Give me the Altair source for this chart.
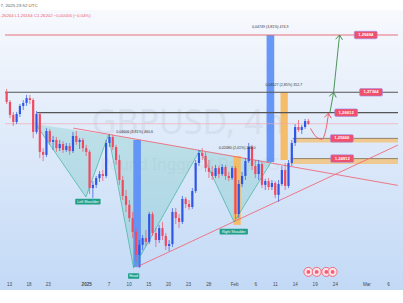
import math
import altair as alt
import numpy as np
import pandas as pd

# ---------------- data ----------------
# 12-hour candles, GBPUSD (slot index = half trading day)
candle_open = [1.2738, 1.2701, 1.2653, 1.2627, 1.2656, 1.2686, 1.2697, 1.2715, 1.2708, 1.2590,
               1.2656, 1.2516, 1.2505, 1.2593, 1.2553, 1.2560, 1.2530, 1.2545, 1.2523, 1.2538,
               1.2519, 1.2575, 1.2553, 1.2560, 1.2530, 1.2516, 1.2382, 1.2394, 1.2419, 1.2434,
               1.2427, 1.2549, 1.2571, 1.2534, 1.2486, 1.2412, 1.2353, 1.2320, 1.2271, 1.2220,
               1.2135, 1.2172, 1.2197, 1.2183, 1.2286, 1.2216, 1.2190, 1.2234, 1.2205, 1.2168,
               1.2175, 1.2294, 1.2271, 1.2257, 1.2342, 1.2323, 1.2312, 1.2371, 1.2475, 1.2512,
               1.2501, 1.2456, 1.2442, 1.2427, 1.2456, 1.2434, 1.2460, 1.2427, 1.2419, 1.2456,
               1.2286, 1.2397, 1.2427, 1.2482, 1.2534, 1.2464, 1.2434, 1.2471, 1.2394, 1.2408,
               1.2386, 1.2401, 1.2357, 1.2397, 1.2449, 1.2390, 1.2475, 1.2549, 1.2608, 1.2597,
               1.2608, 1.2630]
candle_high = [1.2749, 1.2708, 1.2664, 1.2664, 1.2693, 1.2708, 1.2727, 1.2727, 1.2715, 1.2667,
               1.2664, 1.2530, 1.2604, 1.2601, 1.2575, 1.2571, 1.2560, 1.2556, 1.2549, 1.2549,
               1.2590, 1.2593, 1.2567, 1.2567, 1.2542, 1.2523, 1.2408, 1.2427, 1.2445, 1.2449,
               1.2560, 1.2582, 1.2579, 1.2542, 1.2505, 1.2427, 1.2375, 1.2338, 1.2294, 1.2234,
               1.2190, 1.2209, 1.2227, 1.2294, 1.2294, 1.2234, 1.2246, 1.2257, 1.2216, 1.2190,
               1.2308, 1.2308, 1.2286, 1.2353, 1.2349, 1.2338, 1.2382, 1.2486, 1.2523, 1.2530,
               1.2516, 1.2486, 1.2464, 1.2468, 1.2464, 1.2471, 1.2468, 1.2442, 1.2464, 1.2464,
               1.2412, 1.2442, 1.2493, 1.2549, 1.2542, 1.2486, 1.2486, 1.2479, 1.2416, 1.2419,
               1.2412, 1.2408, 1.2412, 1.2464, 1.2475, 1.2486, 1.2560, 1.2619, 1.2634, 1.2616,
               1.2638, 1.2638]
candle_low = [1.2693, 1.2641, 1.2612, 1.2619, 1.2645, 1.2671, 1.2686, 1.2693, 1.2567, 1.2582,
              1.2493, 1.2482, 1.2497, 1.2542, 1.2523, 1.2516, 1.2519, 1.2512, 1.2516, 1.2505,
              1.2512, 1.2542, 1.2527, 1.2516, 1.2501, 1.2360, 1.2345, 1.2382, 1.2405, 1.2408,
              1.2419, 1.2534, 1.2523, 1.2468, 1.2394, 1.2338, 1.2294, 1.2257, 1.2197, 1.2109,
              1.2086, 1.2153, 1.2168, 1.2175, 1.2205, 1.2164, 1.2179, 1.2190, 1.2153, 1.2149,
              1.2164, 1.2249, 1.2234, 1.2249, 1.2308, 1.2301, 1.2305, 1.2364, 1.2464, 1.2486,
              1.2442, 1.2419, 1.2412, 1.2419, 1.2419, 1.2427, 1.2412, 1.2408, 1.2412, 1.2268,
              1.2271, 1.2386, 1.2412, 1.2475, 1.2449, 1.2419, 1.2412, 1.2382, 1.2375, 1.2375,
              1.2375, 1.2345, 1.2331, 1.2390, 1.2375, 1.2382, 1.2464, 1.2538, 1.2590, 1.2582,
              1.2601, 1.2616]
candle_close = [1.2701, 1.2653, 1.2627, 1.2656, 1.2686, 1.2697, 1.2715, 1.2708, 1.2590, 1.2656,
                1.2516, 1.2505, 1.2593, 1.2553, 1.2560, 1.2530, 1.2545, 1.2523, 1.2538, 1.2519,
                1.2575, 1.2553, 1.2560, 1.2530, 1.2516, 1.2382, 1.2394, 1.2419, 1.2434, 1.2427,
                1.2549, 1.2571, 1.2534, 1.2486, 1.2412, 1.2353, 1.2320, 1.2271, 1.2220, 1.2135,
                1.2172, 1.2197, 1.2183, 1.2286, 1.2216, 1.2190, 1.2234, 1.2205, 1.2168, 1.2175,
                1.2294, 1.2271, 1.2257, 1.2342, 1.2323, 1.2312, 1.2371, 1.2475, 1.2512, 1.2501,
                1.2456, 1.2442, 1.2427, 1.2456, 1.2434, 1.2460, 1.2427, 1.2419, 1.2456, 1.2286,
                1.2397, 1.2427, 1.2482, 1.2534, 1.2464, 1.2434, 1.2471, 1.2394, 1.2408, 1.2386,
                1.2401, 1.2357, 1.2397, 1.2449, 1.2390, 1.2475, 1.2549, 1.2608, 1.2597, 1.2608,
                1.2630, 1.2620]

# time axis (slot positions of the date labels)
tick_slots = [0.7, 6.6, 12.4, 24.0, 30.7, 36.8, 42.7, 48.7, 54.7, 60.8,
              68.6, 75.0, 80.9, 86.9, 92.9, 99.0, 108.5, 115.0]
tick_labels = ["13", "18", "23", "2025", "7", "10", "15", "20", "23", "28",
               "Feb", "6", "11", "14", "19", "24", "Mar", "6"]

# horizontal levels
level_price = [1.29484, 1.27364, 1.26612]
level_start = [-0.5, -0.5, 9.2]
level_kind = ["target", "resist", "resist"]
last_price = [1.26202]

# orange support zones
zone_top = [1.25660, 1.24912]
zone_bottom = [1.2551, 1.2471]
zone_start = [86.3, 85.7]

# price tags
tag_text = ["1,29484", "1,27364", "1,26612", "1,25660", "1,24912"]
tag_price = [1.29484, 1.27364, 1.26612, 1.25660, 1.24912]
tag_slot = [108.3, 109.9, 102.4, 101.1, 101.2]

# measuring bars
meas_x0 = [38.2, 78.4, 82.6, 68.4]
meas_x1 = [40.5, 80.7, 84.8, 70.6]
meas_top = [1.2560, 1.29484, 1.27364, 1.2501]
meas_bottom = [1.2090, 1.2479, 1.2486, 1.2246]
meas_kind = ["blue", "blue", "orange", "orange"]
meas_text = ["0,04606 (3,81%) 460,6", "0,04749 (3,81%) 474,9",
             "0,03527 (2,85%) 352,7", "0,02480 (2,01%) 248,0"]
meas_text_slot = [38.6, 79.5, 83.6, 69.5]
meas_text_price = [1.2590, 1.2978, 1.2765, 1.2529]

# inverse head & shoulders pattern vertices
pat_slot = [8.8, 23.9, 30.7, 38.3, 58.3, 68.6, 79.8]
pat_price = [1.2618, 1.2349, 1.2579, 1.2086, 1.2523, 1.2257, 1.2479]
pat_label = ["Left Shoulder", "Head", "Right Shoulder"]
pat_label_slot = [24.5, 38.3, 68.5]
pat_label_price = [1.2332, 1.2057, 1.2221]
pat_label_wpx = [26, 11.5, 29]

# trend lines
neck_slot = [20.1, 118.0]
neck_price = [1.2604, 1.2392]
rise_slot = [39.2, 118.0]
rise_price = [1.2090, 1.2541]

# projection arrows
green_slot = [97.5, 98.6, 100.4]
green_price = [1.2661, 1.27364, 1.29484]
red_slot = [91.65, 92.44, 93.62, 95.09, 96.12, 96.7, 97.06]
red_price = [1.2603, 1.2586, 1.2569, 1.2563, 1.2590, 1.2627, 1.2659]

# economic calendar events
event_slot = [91.0, 93.5, 96.4, 98.3]
event_price = [1.2072, 1.2072, 1.2072, 1.2072]

# ---------------- scales / layout ----------------
W, H = 403, 290
PX_PER_SLOT = 3.4
PRICE_PER_PX = 0.00037
TOP_PRICE = 1.3078
XMIN = -0.5
XMAX = XMIN + W / PX_PER_SLOT
YMIN = TOP_PRICE - PRICE_PER_PX * H

XS = alt.Scale(domain=[XMIN, XMAX], nice=False, zero=False)
YS = alt.Scale(domain=[YMIN, TOP_PRICE], nice=False, zero=False)

label_expr = ("[" + ",".join("'%s'" % l for l in tick_labels) + "][indexof(["
              + ",".join(str(v) for v in tick_slots) + "], datum.value)]")
XAXIS = alt.Axis(values=tick_slots, labelExpr=label_expr, title=None, grid=False,
                 domain=False, ticks=False, tickSize=0, labelPadding=0.7, offset=-9,
                 labelFontSize=4.6, labelColor="#4a4a4a", labelFont="Liberation Sans",
                 labelOverlap=False, labelFlush=False, zindex=1,
                 labelFontWeight={"condition": {"test": "datum.value == 24", "value": "bold"},
                                  "value": "normal"})


def X(f):
    return alt.X(f, type="quantitative", scale=XS, axis=XAXIS)


def Y(f):
    return alt.Y(f, type="quantitative", scale=YS, axis=None)


FONT = "Liberation Sans"
UP, DOWN = "#2f56e6", "#f04a60"
COLOR_OF = {"target": "#e5707d", "resist": "#555555", "blue": "#5b8ef6", "orange": "#f6b95c"}

# ---------------- frames ----------------
candles = pd.DataFrame({"slot": list(range(len(candle_close))), "open": candle_open,
                        "high": candle_high, "low": candle_low, "close": candle_close})
candles["col"] = np.where(candles["close"] >= candles["open"], UP, DOWN)

levels = pd.DataFrame({"price": level_price, "start": level_start, "end": XMAX, "kind": level_kind})
levels["col"] = levels["kind"].map(COLOR_OF)
lastp = pd.DataFrame({"price": last_price, "start": XMIN, "end": XMAX})
zones = pd.DataFrame({"top": zone_top, "bottom": zone_bottom, "start": zone_start, "end": XMAX})

tw, th = 23.5 / PX_PER_SLOT / 2, 7.5 * PRICE_PER_PX / 2
tags = pd.DataFrame({"text": tag_text, "price": tag_price, "slot": tag_slot})
tags["x0"], tags["x1"] = tags["slot"] - tw, tags["slot"] + tw
tags["y0"], tags["y1"] = tags["price"] - th, tags["price"] + th

meas = pd.DataFrame({"x0": meas_x0, "x1": meas_x1, "top": meas_top, "bottom": meas_bottom,
                     "kind": meas_kind})
meas["col"] = meas["kind"].map(COLOR_OF)
meas_lbl = pd.DataFrame({"text": meas_text, "slot": meas_text_slot, "price": meas_text_price})

shoulder_idx = [0, 2, 4, 6]
pat = pd.DataFrame({"slot": pat_slot, "price": pat_price, "i": list(range(len(pat_slot)))})
pat["top"] = np.interp(pat["slot"], [pat_slot[i] for i in shoulder_idx],
                       [pat_price[i] for i in shoulder_idx])
plab = pd.DataFrame({"text": pat_label, "slot": pat_label_slot, "price": pat_label_price,
                     "w": pat_label_wpx})
plab["x0"] = plab["slot"] - plab["w"] / PX_PER_SLOT / 2
plab["x1"] = plab["slot"] + plab["w"] / PX_PER_SLOT / 2
plab["y0"] = plab["price"] - 2.8 * PRICE_PER_PX
plab["y1"] = plab["price"] + 2.8 * PRICE_PER_PX

trend = pd.DataFrame({"slot": neck_slot + rise_slot, "price": neck_price + rise_price,
                      "id": ["neck", "neck", "rise", "rise"]})
green = pd.DataFrame({"slot": green_slot, "price": green_price, "i": [0, 1, 2]})
redc = pd.DataFrame({"slot": red_slot, "price": red_price})


def head_angle(sx, sy, ex, ey):
    dx = (ex - sx) * PX_PER_SLOT
    dy = (ey - sy) / PRICE_PER_PX
    return math.degrees(math.atan2(dx, dy))


ghead = pd.DataFrame({
    "slot": green_slot[1:], "price": green_price[1:],
    "ang": [head_angle(green_slot[0], green_price[0], green_slot[1], green_price[1]),
            head_angle(green_slot[1], green_price[1], green_slot[2], green_price[2])]})
rhead = pd.DataFrame({"slot": [red_slot[-1]], "price": [red_price[-1]],
                      "ang": [head_angle(red_slot[-2], red_price[-2], red_slot[-1], red_price[-1])]})
events = pd.DataFrame({"slot": event_slot, "price": event_price})

one = pd.DataFrame({"a": [0]})
CHEVRON = "M-1,1.3L0,0L1,1.3"

# ---------------- layers ----------------
bg = alt.Chart(one).mark_rect(
    color=alt.Gradient(gradient="linear",
                       stops=[alt.GradientStop(color="#f7f9fd", offset=0),
                              alt.GradientStop(color="#c2d9f6", offset=1)],
                       x1=0, x2=0, y1=0, y2=1)
).encode(x=alt.value(0), x2=alt.value(W), y=alt.value(10), y2=alt.value(H))

hdr1 = alt.Chart(pd.DataFrame({"t": ["7, 2025 23:52 UTC"]})).mark_text(
    align="left", baseline="middle", fontSize=4.4, font=FONT, color="#5a5a5a"
).encode(x=alt.value(0.5), y=alt.value(5.7), text="t:N")
hdr2 = alt.Chart(pd.DataFrame({"t": [",26264  L1,26164  C1,26202  \u22120,00056 (\u22120,04%)"]})).mark_text(
    align="left", baseline="middle", fontSize=4.3, font=FONT, color="#ee5a6e"
).encode(x=alt.value(0.5), y=alt.value(16), text="t:N")

wm1 = alt.Chart(pd.DataFrame({"t": ["GBPUSD, 4h"]})).mark_text(
    align="center", baseline="middle", fontSize=34, font="Noto Sans", color="#d3dcec", opacity=0.75
).encode(x=alt.value(188), y=alt.value(124), text="t:N")
wm2 = alt.Chart(pd.DataFrame({"t": ["Pound Inggris / Dolar AS"]})).mark_text(
    align="center", baseline="middle", fontSize=15.5, font="Noto Sans", color="#d3dcec", opacity=0.75
).encode(x=alt.value(190), y=alt.value(165), text="t:N")

pat_fill = alt.Chart(pat).mark_area(color="#22ab94", opacity=0.18).encode(
    x=X("slot"), y=Y("price"), y2="top")
pat_line = alt.Chart(pat).mark_line(color="#3bb39c", strokeWidth=0.7).encode(
    x=X("slot"), y=Y("price"), order="i:Q")

meas_bars = alt.Chart(meas).mark_rect(opacity=0.92).encode(
    x=X("x0"), x2="x1", y=Y("top"), y2="bottom", color=alt.Color("col:N", scale=None))

zone_rect = alt.Chart(zones).mark_rect(color="#f5bd67", opacity=0.72).encode(
    x=X("start"), x2="end", y=Y("top"), y2="bottom")
zone_line = alt.Chart(zones).mark_rule(color="#7c6b55", strokeWidth=0.8).encode(
    x=X("start"), x2="end", y=Y("top"))

level_rules = alt.Chart(levels).mark_rule(strokeWidth=1.1).encode(
    x=X("start"), x2="end", y=Y("price"), color=alt.Color("col:N", scale=None))
last_rule = alt.Chart(lastp).mark_rule(color="#f3a3ae", strokeWidth=0.8, opacity=0.8).encode(
    x=X("start"), x2="end", y=Y("price"))

trend_lines = alt.Chart(trend).mark_line(color="#ef6b7b", strokeWidth=0.9).encode(
    x=X("slot"), y=Y("price"), detail="id:N")

wicks = alt.Chart(candles).mark_rule(strokeWidth=0.7).encode(
    x=X("slot"), y=Y("low"), y2="high", color=alt.Color("col:N", scale=None))
bodies = alt.Chart(candles).mark_bar(width=2.2).encode(
    x=X("slot"), y=Y("open"), y2="close", color=alt.Color("col:N", scale=None))

meas_text_l = alt.Chart(meas_lbl).mark_text(fontSize=3.6, font=FONT, color="#333333").encode(
    x=X("slot"), y=Y("price"), text="text:N")

green_line = alt.Chart(green).mark_line(color="#3a8a45", strokeWidth=0.9).encode(
    x=X("slot"), y=Y("price"), order="i:Q")
green_heads = alt.Chart(ghead).mark_point(shape=CHEVRON, size=49, filled=False,
                                          color="#3a8a45", strokeWidth=0.9, opacity=1).encode(
    x=X("slot"), y=Y("price"), angle=alt.Angle("ang:Q", scale=None))
red_curve = alt.Chart(redc).mark_line(color="#ee4f64", strokeWidth=0.9, interpolate="monotone").encode(
    x=X("slot"), y=Y("price"))
red_head = alt.Chart(rhead).mark_point(shape=CHEVRON, size=49, filled=False,
                                       color="#ee4f64", strokeWidth=0.9, opacity=1).encode(
    x=X("slot"), y=Y("price"), angle=alt.Angle("ang:Q", scale=None))

tag_box = alt.Chart(tags).mark_rect(fill="#f0506a", stroke="#a08cf0", strokeWidth=0.6,
                                    cornerRadius=1.2).encode(
    x=X("x0"), x2="x1", y=Y("y0"), y2="y1")
tag_txt = alt.Chart(tags).mark_text(fontSize=4.2, font=FONT, fontWeight="bold", color="white").encode(
    x=X("slot"), y=Y("price"), text="text:N")

plab_box = alt.Chart(plab).mark_rect(fill="#1f9f89", cornerRadius=1).encode(
    x=X("x0"), x2="x1", y=Y("y0"), y2="y1")
plab_txt = alt.Chart(plab).mark_text(fontSize=3.6, font=FONT, color="white").encode(
    x=X("slot"), y=Y("price"), text="text:N")

event_pts = alt.Chart(events).mark_point(shape="circle", size=81, filled=True, fill="#fde3e7",
                                         stroke="#f0506a", strokeWidth=0.8, opacity=1).encode(
    x=X("slot"), y=Y("price"))
event_in = alt.Chart(events).mark_point(shape="circle", size=14, filled=True, color="#f0506a",
                                        opacity=0.9).encode(x=X("slot"), y=Y("price"))

chart = alt.layer(
    bg, hdr1, hdr2, wm1, wm2, pat_fill, meas_bars, zone_rect, zone_line, level_rules, last_rule,
    trend_lines, pat_line, wicks, bodies, meas_text_l, green_line, green_heads, red_curve, red_head,
    tag_box, tag_txt, plab_box, plab_txt, event_pts, event_in
).properties(
    width=W, height=H,
    padding={"left": 0, "right": 0, "top": 0, "bottom": 13},
    autosize=alt.AutoSizeParams(type="none"),
    background="white",
).configure_view(stroke=None)

chart.save("out.html", embed_options={"renderer": "svg", "actions": False})
